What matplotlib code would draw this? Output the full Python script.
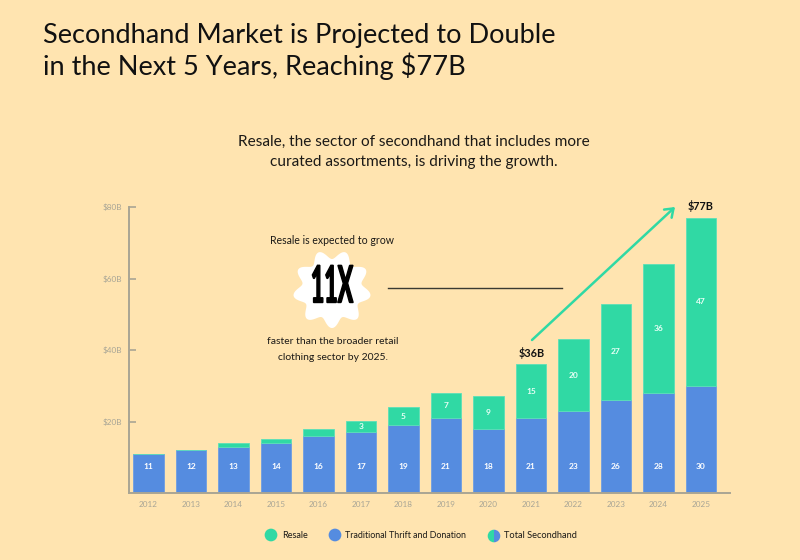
import numpy as np
import matplotlib
matplotlib.use("Agg")
import matplotlib.pyplot as plt
from matplotlib.patches import Polygon, Wedge
from matplotlib.patheffects import AbstractPathEffect
from matplotlib.transforms import Affine2D

years = [2012, 2013, 2014, 2015, 2016, 2017, 2018, 2019, 2020, 2021, 2022, 2023, 2024, 2025]
thrift = [11, 12, 13, 14, 16, 17, 19, 21, 18, 21, 23, 26, 28, 30]
resale = [0, 0, 1, 1, 2, 3, 5, 7, 9, 15, 20, 27, 36, 47]
yticks = [20, 40, 60, 80]
ytick_labels = ["$20B", "$40B", "$60B", "$80B"]
labelled_resale_from = 3

BG = "#FFE4B0"; GREEN = "#30D9A4"; BLUE = "#558CE0"; AXIS = "#A9A594"
TICK = "#A8A596"; INK = "#1C1A17"
FONT = "Lato"

W, H = 800, 560
plt.rcParams["font.family"] = FONT
fig = plt.figure(figsize=(8, 5.6), dpi=100, facecolor=BG)

ax = fig.add_axes([128.5 / W, 1 - 493 / H, (730 - 128.5) / W, 286 / H], facecolor="none")
x = np.arange(len(years))
unit = 42.5
ax.set_xlim(-(148.5 - 128.5) / unit, (730 - 148.5) / unit)
ax.set_ylim(0, 80)
ax.bar(x, thrift, width=30.5 / unit, color=BLUE, edgecolor="#6E9DE3", linewidth=0.6, zorder=2)
ax.bar(x, resale, bottom=thrift, width=30.5 / unit, color=GREEN, edgecolor="#5CE0B8", linewidth=0.6, zorder=2)
for i, (t_, r) in enumerate(zip(thrift, resale)):
    ax.text(i, 7.3, str(t_), color="white", fontsize=6, fontweight="bold", ha="center", va="center", zorder=3)
    if r >= labelled_resale_from:
        ax.text(i, t_ + r / 2, str(r), color="#E8FFF6", fontsize=6, fontweight="bold", ha="center", va="center", zorder=3)
for s in ("top", "right"):
    ax.spines[s].set_visible(False)
for s in ("left", "bottom"):
    ax.spines[s].set_color(AXIS)
    ax.spines[s].set_linewidth(1.4)
ax.set_xticks(x, [str(y) for y in years])
ax.set_yticks(yticks, ytick_labels)
ax.tick_params(axis="x", length=0, pad=5.5, labelsize=5.9, labelcolor=TICK)
ax.tick_params(axis="y", direction="in", length=5, width=1.2, color=AXIS, pad=4.6, labelsize=5.9, labelcolor=TICK)

ov = fig.add_axes([0, 0, 1, 1], facecolor="none")
ov.set_xlim(0, W); ov.set_ylim(H, 0); ov.axis("off")

def t(px, py, s, size, ha="center", weight="normal", color=INK, **kw):
    return ov.text(px, py, s, fontsize=size, ha=ha, va="center", fontweight=weight, color=color, **kw)

t(43, 36, "Secondhand Market is Projected to Double", 19.5, ha="left", color="#111111")
t(43, 66, "in the Next 5 Years, Reaching $77B", 19.5, ha="left", color="#111111")
t(414, 142, "Resale, the sector of secondhand that includes more", 11.05)
t(414, 162, "curated assortments, is driving the growth.", 11.05)

t(332.5, 240, "Resale is expected to grow", 7.6)
t(333, 342, "faster than the broader retail", 7.5)
t(333, 357, "clothing sector by 2025.", 7.5)

# scalloped badge
theta = np.linspace(0, 2 * np.pi, 541)
radius = 34.5 + 4.5 * np.cos(9 * theta)
ov.add_patch(Polygon(np.c_[332 + radius * np.sin(theta), 289 + radius * np.cos(theta)],
                     closed=True, fc="white", ec="none"))

class SqueezeX(AbstractPathEffect):
    """Draw the text narrower and heavier (a condensed face is not installed)."""
    def __init__(self, factor, centre_px, stroke):
        super().__init__()
        self.factor, self.centre, self.stroke = factor, centre_px, stroke
    def draw_path(self, renderer, gc, tpath, affine, rgbFace=None):
        squeeze = Affine2D().translate(-self.centre, 0).scale(self.factor, 1).translate(self.centre, 0)
        g = renderer.new_gc()
        g.copy_properties(gc)
        g.set_linewidth(self.stroke)
        g.set_foreground("black")
        g.set_joinstyle("miter")
        renderer.draw_path(g, tpath, affine + squeeze, rgbFace)
        g.restore()

t(332, 288, "11X", 37, weight="bold", color="black").set_path_effects([SqueezeX(0.45, 332, 1.0)])

ov.plot([388, 562], [288, 288], color="#3A3A32", lw=1)

t(531.5, 353, "$36B", 7.8, weight="bold", color="#111111")
t(701, 206, "$77B", 7.8, weight="bold", color="#111111")
ov.annotate("", xy=(675, 207), xytext=(532, 340),
            arrowprops=dict(arrowstyle="->,head_length=0.55,head_width=0.4", color=GREEN, lw=1.8, shrinkA=0, shrinkB=0))

ov.scatter([271], [535], s=84, color=GREEN, edgecolor="none")
ov.scatter([335], [535], s=84, color=BLUE, edgecolor="none")
ov.add_patch(Wedge((494, 536), 6.3, 90, 270, fc=GREEN, ec="none"))
ov.add_patch(Wedge((494, 536), 6.3, 270, 450, fc=BLUE, ec="none"))
t(282, 535.5, "Resale", 6.6, ha="left")
t(345, 535.5, "Traditional Thrift and Donation", 6.4, ha="left")
t(504, 536, "Total Secondhand", 6.7, ha="left")

fig.savefig("out.png", dpi=100, facecolor=BG)
